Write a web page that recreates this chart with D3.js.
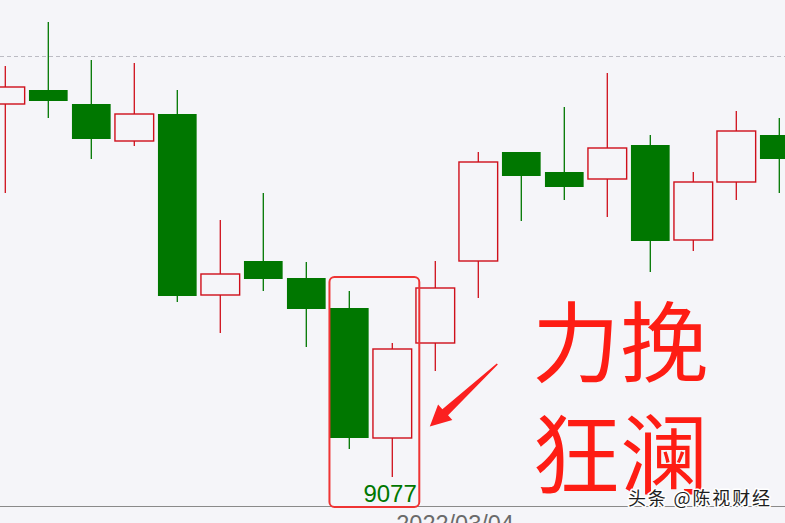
<!DOCTYPE html>
<html>
<head>
<meta charset="utf-8">
<script src="https://cdn.jsdelivr.net/npm/d3@7"></script>
<style>
html,body{margin:0;padding:0;background:#f5f5f9;}
svg{display:block;}
</style>
</head>
<body>
<svg id="chart" width="785" height="523"></svg>
<script>
// ---- data ----
const dates  = ["2022/02/21","2022/02/22","2022/02/23","2022/02/24","2022/02/25","2022/02/28","2022/03/01","2022/03/02","2022/03/03","2022/03/04","2022/03/07","2022/03/08","2022/03/09","2022/03/10","2022/03/11","2022/03/14","2022/03/15","2022/03/16","2022/03/17"];
const opens  = [9450,9464,9450,9413,9440,9259,9293,9276,9246,9116,9211,9293,9402,9382,9375,9409,9314,9372,9419];
const highs  = [9488,9532,9494,9491,9464,9334,9361,9292,9263,9211,9293,9402,9402,9447,9481,9419,9382,9443,9436];
const lows   = [9361,9436,9395,9408,9252,9221,9263,9207,9105,9077,9183,9256,9333,9354,9337,9282,9303,9354,9361];
const closes = [9467,9453,9415,9440,9258,9280,9275,9245,9116,9205,9266,9392,9378,9367,9406,9313,9372,9423,9395];
const refLevel = 9498;
const axisLabel = "2022/03/04";
const titleLines = ["力挽","狂澜"];
const watermark = "头条 @陈视财经";

const W = 785, H = 523;
const svg = d3.select("#chart");
svg.append("rect").attr("width",W).attr("height",H).attr("fill","#f5f5f9");

const x = d3.scaleLinear().domain([0, dates.length-1]).range([5.3, 779.3]);
const y = d3.scaleLinear().domain([9031, 9554]).range([523, 0]);
const step = x(1)-x(0);
const bw = step*0.9;

const UP = "#cf0f1b", DOWN = "#007700";

// reference dashed line
svg.append("line").attr("x1",0).attr("x2",W)
  .attr("y1",Math.round(y(refLevel))+0.5).attr("y2",Math.round(y(refLevel))+0.5)
  .attr("stroke","#bcbcc4").attr("stroke-width",1).attr("stroke-dasharray","4,3");

// bottom axis line
const axisY = 506.5;
svg.append("line").attr("x1",0).attr("x2",W).attr("y1",axisY).attr("y2",axisY)
  .attr("stroke","#8a8a8a").attr("stroke-width",1);

const data = dates.map((d,i)=>({d,i,o:opens[i],h:highs[i],l:lows[i],c:closes[i]}));

const g = svg.append("g");
const cs = g.selectAll("g.c").data(data).join("g").attr("class","c");
cs.append("line")
  .attr("x1",d=>x(d.i)).attr("x2",d=>x(d.i))
  .attr("y1",d=>y(d.h)).attr("y2",d=>y(d.l))
  .attr("stroke",d=>d.c>=d.o?UP:DOWN).attr("stroke-width",1.3);
cs.append("rect")
  .attr("x",d=>x(d.i)-bw/2)
  .attr("y",d=>y(Math.max(d.o,d.c)))
  .attr("width",bw)
  .attr("height",d=>Math.max(1,Math.abs(y(d.o)-y(d.c))))
  .attr("fill",d=>d.c>=d.o?"#f5f5f9":DOWN)
  .attr("stroke",d=>d.c>=d.o?UP:"none")
  .attr("stroke-width",1.4);

// low label
const minLow = d3.min(lows);
const iMin = lows.indexOf(minLow);
svg.append("text").attr("x",x(iMin)+24.5).attr("y",501.5)
  .attr("text-anchor","end").attr("fill","#007700")
  .attr("font-family","Liberation Sans, Arial, sans-serif").attr("font-size",24)
  .text(String(minLow));

// date label
svg.append("text").attr("x",x(dates.indexOf(axisLabel))+4).attr("y",532)
  .attr("fill","#6a6a6a").attr("font-family","Liberation Sans, Arial, sans-serif")
  .attr("font-size",23.5).text(axisLabel);

// highlight box around last two candles of the drop
const iBox = iMin-1;
svg.append("rect")
  .attr("x",x(iBox)-bw/2-0.5).attr("y",y(highs[iBox])-14)
  .attr("width",(x(iMin)+27)-(x(iBox)-bw/2-0.5))
  .attr("height",axisY+0.5-(y(highs[iBox])-14))
  .attr("rx",5).attr("ry",5)
  .attr("fill","none").attr("stroke","#ef3434").attr("stroke-width",2);

// arrow annotation pointing at the box
(function(){
  const tip=[x(iMin)+37.5, y(lows[iMin])-50.5], tail=[tip[0]+67.5, tip[1]-62.5];
  const dx=tail[0]-tip[0], dy=tail[1]-tip[1], L=Math.hypot(dx,dy);
  const ux=dx/L, uy=dy/L, px=-uy, py=ux;
  const hl=21, hw=10.5, sw=4.2;
  const b=[tip[0]+ux*hl, tip[1]+uy*hl];
  const pts=[tip,
    [b[0]+px*hw,b[1]+py*hw],[b[0]+px*sw,b[1]+py*sw],
    [tail[0]+px*0.8,tail[1]+py*0.8],[tail[0]-px*0.8,tail[1]-py*0.8],
    [b[0]-px*sw,b[1]-py*sw],[b[0]-px*hw,b[1]-py*hw]];
  svg.append("polygon").attr("points",pts.map(p=>p.join(",")).join(" "))
    .attr("fill","#fb2020");
})();

// big title
svg.selectAll("text.title").data(titleLines).join("text").attr("class","title")
  .attr("x",532).attr("y",(d,i)=>375+i*111.5)
  .attr("fill","#fe1d14")
  .attr("font-family","Noto Sans CJK SC, sans-serif").attr("font-size",88)
  .text(d=>d);

// watermark
svg.append("text").attr("x",628).attr("y",505)
  .attr("fill","#1e1e1e").attr("stroke","#ffffff").attr("stroke-width",3)
  .attr("paint-order","stroke").attr("stroke-linejoin","round")
  .attr("font-family","Noto Sans CJK SC, sans-serif").attr("font-size",18)
  .attr("textLength",142).attr("lengthAdjust","spacing")
  .text(watermark);
</script>
</body>
</html>
